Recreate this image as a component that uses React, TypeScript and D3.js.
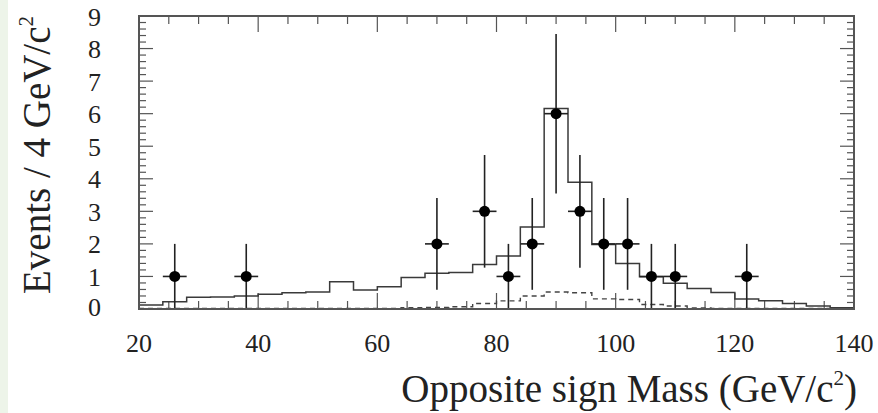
import React from "react";
import * as d3 from "d3";

// Solid (total expectation) histogram: bin edges (4 GeV wide) and contents
const binEdges = [20, 24, 28, 32, 36, 40, 44, 48, 52, 56, 60, 64, 68, 72, 76, 80, 84, 88, 92, 96, 100, 104, 108, 112, 116, 120, 124, 128, 132, 136, 140];
const solidValues = [0.12, 0.22, 0.36, 0.37, 0.4, 0.45, 0.5, 0.52, 0.84, 0.58, 0.68, 0.97, 1.1, 1.12, 1.37, 1.63, 2.52, 6.16, 3.89, 1.98, 1.4, 0.99, 0.79, 0.63, 0.51, 0.31, 0.25, 0.17, 0.09, 0.04];
const dashedValues = [0.02, 0.02, 0.02, 0.02, 0.02, 0.02, 0.02, 0.02, 0.02, 0.02, 0.02, 0.04, 0.05, 0.07, 0.17, 0.25, 0.4, 0.52, 0.5, 0.31, 0.29, 0.14, 0.09, 0.03, 0.02, 0.02, 0.02, 0.02, 0.02, 0.02];

// Data points
const dataMass = [26, 38, 70, 78, 82, 86, 90, 94, 98, 102, 106, 110, 122];
const dataEvents = [1, 1, 2, 3, 1, 2, 6, 3, 2, 2, 1, 1, 1];
const dataErrors = [1, 1, 1.41, 1.73, 1, 1.41, 2.45, 1.73, 1.41, 1.41, 1, 1, 1];
const binHalfWidth = 2;

const xTicks = [20, 40, 60, 80, 100, 120, 140];
const yTicks = [0, 1, 2, 3, 4, 5, 6, 7, 8, 9];

const W = 878;
const H = 413;
const L = 139, R = 854, T = 16, B = 309;

export default function App() {
  const x = d3.scaleLinear().domain([20, 140]).range([L, R]);
  const y = d3.scaleLinear().domain([0, 9]).range([B, T]);

  const histPath = (vals: number[]) => {
    const pts: [number, number][] = [];
    vals.forEach((v, i) => {
      pts.push([binEdges[i], v]);
      pts.push([binEdges[i + 1], v]);
    });
    return d3.line<[number, number]>().x(d => x(d[0])).y(d => y(d[1]))(pts) || "";
  };

  const minorX = d3.range(20, 140.01, 5).filter(v => v % 20 !== 0);
  const minorY = d3.range(0, 9.001, 0.2).map(v => Math.round(v * 10) / 10).filter(v => Math.abs(v - Math.round(v)) > 1e-6);

  const lineColor = "#3a3a3a";
  const font = "'Liberation Serif', 'Times New Roman', serif";

  return (
    <svg width={W} height={H} style={{ position: "absolute", left: 0, top: 0, display: "block", background: "#fff" }}>
      <rect x={0} y={0} width={W} height={H} fill="#fff" />
      <rect x={0} y={0} width={8} height={H} fill="#edf4e9" />

      {/* ticks */}
      <g stroke="#555" strokeWidth={1.2}>
        {xTicks.map(v => (
          <g key={"xt" + v}>
            <line x1={x(v)} x2={x(v)} y1={B} y2={B - 16} />
            <line x1={x(v)} x2={x(v)} y1={T} y2={T + 16} />
          </g>
        ))}
        {minorX.map(v => (
          <g key={"xm" + v}>
            <line x1={x(v)} x2={x(v)} y1={B} y2={B - 8} />
            <line x1={x(v)} x2={x(v)} y1={T} y2={T + 8} />
          </g>
        ))}
        {yTicks.map(v => (
          <g key={"yt" + v}>
            <line x1={L} x2={L + 14} y1={y(v)} y2={y(v)} />
            <line x1={R} x2={R - 14} y1={y(v)} y2={y(v)} />
          </g>
        ))}
        {minorY.map(v => (
          <g key={"ym" + v}>
            <line x1={L} x2={L + 7} y1={y(v)} y2={y(v)} />
            <line x1={R} x2={R - 7} y1={y(v)} y2={y(v)} />
          </g>
        ))}
      </g>

      {/* histograms */}
      <path d={histPath(dashedValues)} fill="none" stroke="#444" strokeWidth={1.4} strokeDasharray="5,4" />
      <path d={histPath(solidValues)} fill="none" stroke={lineColor} strokeWidth={1.5} />

      {/* data points */}
      <g stroke="#222" strokeWidth={1.6}>
        {dataMass.map((m, i) => (
          <g key={"d" + i}>
            <line x1={x(m)} x2={x(m)} y1={y(dataEvents[i] + dataErrors[i])} y2={y(Math.max(0, dataEvents[i] - dataErrors[i]))} />
            <line x1={x(m - binHalfWidth)} x2={x(m + binHalfWidth)} y1={y(dataEvents[i])} y2={y(dataEvents[i])} />
          </g>
        ))}
      </g>
      <g fill="#000">
        {dataMass.map((m, i) => (
          <circle key={"c" + i} cx={x(m)} cy={y(dataEvents[i])} r={5.5} />
        ))}
      </g>

      {/* frame */}
      <rect x={L} y={T} width={R - L} height={B - T} fill="none" stroke="#555" strokeWidth={2} />

      {/* tick labels */}
      <g fontFamily={font} fontSize={26} fill="#222">
        {xTicks.map(v => (
          <text key={"xl" + v} x={x(v)} y={352} textAnchor="middle">{v}</text>
        ))}
        {yTicks.map(v => (
          <text key={"yl" + v} x={101} y={y(v) + (v === 0 ? -2 : 1)} textAnchor="end" dominantBaseline="central">{v}</text>
        ))}
      </g>

      {/* axis titles */}
      <text x={857} y={402} textAnchor="end" fontFamily={font} fontSize={39} fill="#222">
        Opposite sign Mass (GeV/c<tspan fontSize={21} dy={-17}>2</tspan><tspan dy={17}>)</tspan>
      </text>
      <text transform="translate(50,294) rotate(-90)" textAnchor="start" fontFamily={font} fontSize={39} fill="#222">
        Events / 4 GeV/c<tspan fontSize={21} dy={-17}>2</tspan>
      </text>
    </svg>
  );
}
